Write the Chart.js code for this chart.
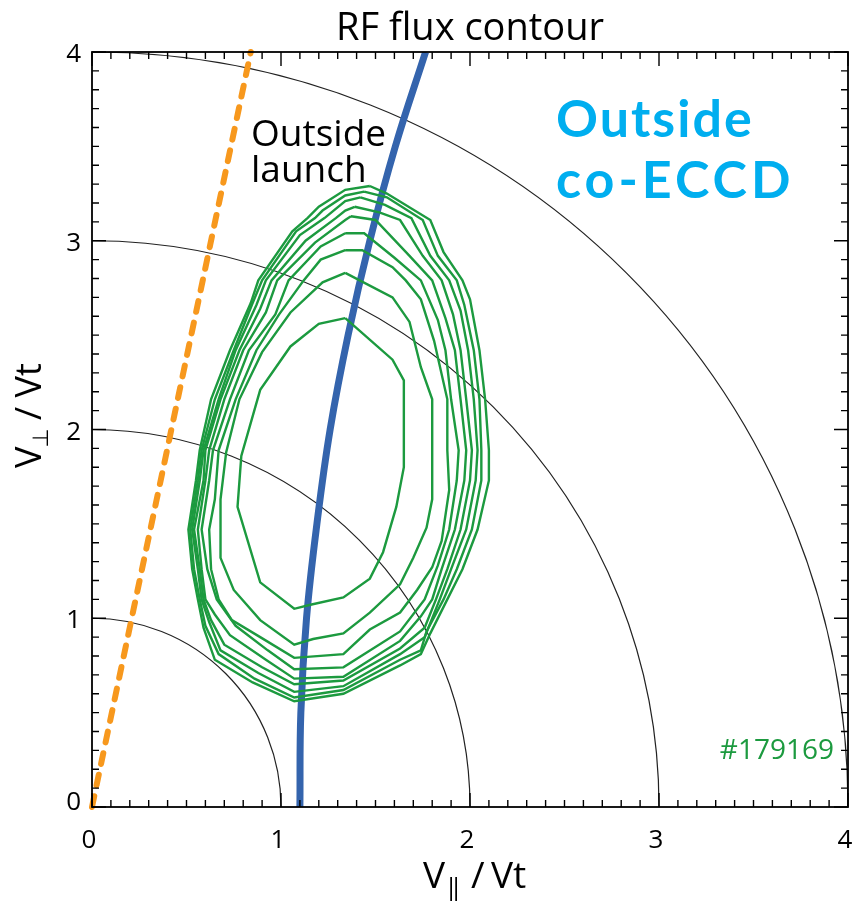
<!DOCTYPE html>
<html>
<head>
<meta charset="utf-8">
<title>RF flux contour</title>
<style>
  html, body { margin: 0; padding: 0; background: #ffffff; }
  canvas { display: block; }
</style>
<script src="https://cdn.jsdelivr.net/npm/chart.js@4.4.1/dist/chart.umd.min.js"></script>
</head>
<body>
<canvas id="flux" width="858" height="901"></canvas>
<script>
// Axis ticks (V||/Vt and V⊥/Vt), minor tick spacing
const axisTicks = [0, 1, 2, 3, 4];
const tickLabels = ['0', '1', '2', '3', '4'];
const minorStep = 0.1;

// Constant-energy circles |v|/Vt
const circleRadii = [1, 2, 3, 4];

// Launch ray (orange dashed)
const launchX = [0, 0.84];
const launchY = [0, 4];

// Resonance curve (blue)
const resonanceY = [0, 0.5, 1, 1.5, 2, 2.5, 3, 3.5, 4];
const resonanceX = [1.10, 1.105, 1.135, 1.19, 1.26, 1.355, 1.47, 1.605, 1.765];

// RF flux contours, outermost to innermost, as [V||, V⊥] vertices
const contour1 = [[1.47,3.29],[1.56,3.25],[1.79,3.11],[1.86,2.94],[1.96,2.79],[2.00,2.69],[2.05,2.42],[2.08,2.16],[2.10,1.89],[2.10,1.73],[2.04,1.47],[1.96,1.26],[1.88,1.10],[1.79,0.92],[1.74,0.81],[1.63,0.75],[1.33,0.60],[1.07,0.56],[0.85,0.66],[0.65,0.78],[0.59,0.95],[0.56,1.10],[0.53,1.26],[0.51,1.47],[0.55,1.73],[0.57,1.89],[0.63,2.16],[0.73,2.42],[0.84,2.67],[0.88,2.79],[1.06,3.05],[1.14,3.12],[1.20,3.18],[1.34,3.27]];
const contour2 = [[1.44,3.26],[1.56,3.23],[1.75,3.11],[1.83,2.92],[1.93,2.79],[1.97,2.66],[2.02,2.42],[2.05,2.16],[2.06,1.89],[2.06,1.73],[2.01,1.47],[1.93,1.26],[1.86,1.10],[1.77,0.93],[1.74,0.83],[1.63,0.78],[1.33,0.62],[1.07,0.58],[0.86,0.68],[0.67,0.81],[0.60,0.96],[0.57,1.10],[0.54,1.26],[0.52,1.47],[0.56,1.73],[0.58,1.89],[0.65,2.16],[0.75,2.42],[0.85,2.67],[0.90,2.79],[1.08,3.05],[1.18,3.12],[1.22,3.16],[1.34,3.24]];
const contour3 = [[1.42,3.23],[1.55,3.19],[1.69,3.12],[1.79,2.92],[1.89,2.79],[1.95,2.63],[1.99,2.42],[2.02,2.16],[2.04,1.89],[2.03,1.73],[1.98,1.47],[1.90,1.26],[1.84,1.10],[1.76,0.90],[1.63,0.81],[1.33,0.64],[1.07,0.61],[0.88,0.71],[0.68,0.83],[0.62,0.98],[0.58,1.10],[0.56,1.26],[0.53,1.47],[0.57,1.73],[0.59,1.89],[0.67,2.16],[0.76,2.42],[0.87,2.66],[0.92,2.79],[1.10,3.03],[1.23,3.12],[1.34,3.21]];
const contour4 = [[1.39,3.18],[1.52,3.15],[1.63,3.11],[1.75,2.92],[1.85,2.79],[1.91,2.61],[1.95,2.42],[1.98,2.16],[2.01,1.89],[2.00,1.73],[1.95,1.47],[1.88,1.26],[1.82,1.10],[1.76,0.95],[1.63,0.84],[1.33,0.67],[1.07,0.65],[0.90,0.74],[0.70,0.86],[0.63,0.99],[0.59,1.10],[0.57,1.26],[0.54,1.47],[0.59,1.73],[0.60,1.89],[0.68,2.16],[0.78,2.42],[0.89,2.64],[0.95,2.79],[1.13,3.00],[1.29,3.12],[1.34,3.16]];
const contour5 = [[1.37,3.13],[1.50,3.11],[1.68,2.92],[1.80,2.79],[1.87,2.59],[1.92,2.42],[1.95,2.16],[1.98,1.89],[1.97,1.73],[1.92,1.47],[1.85,1.26],[1.80,1.10],[1.74,1.01],[1.63,0.88],[1.33,0.69],[1.07,0.68],[0.92,0.78],[0.73,0.91],[0.65,1.02],[0.60,1.10],[0.58,1.26],[0.56,1.47],[0.60,1.73],[0.62,1.89],[0.70,2.16],[0.80,2.42],[0.92,2.62],[0.98,2.79],[1.18,2.99],[1.34,3.11]];
const contour6 = [[1.34,3.04],[1.44,3.04],[1.60,2.91],[1.74,2.79],[1.83,2.58],[1.87,2.42],[1.90,2.16],[1.94,1.89],[1.93,1.73],[1.89,1.47],[1.83,1.28],[1.76,1.10],[1.63,0.93],[1.33,0.74],[1.07,0.73],[0.93,0.83],[0.76,0.96],[0.66,1.10],[0.61,1.26],[0.58,1.47],[0.62,1.73],[0.64,1.89],[0.73,2.16],[0.83,2.42],[0.97,2.61],[1.04,2.79],[1.21,2.97]];
const contour7 = [[1.34,2.95],[1.43,2.95],[1.59,2.86],[1.66,2.79],[1.74,2.69],[1.81,2.47],[1.88,2.16],[1.88,1.89],[1.89,1.68],[1.85,1.41],[1.80,1.27],[1.72,1.15],[1.63,1.03],[1.47,0.94],[1.33,0.81],[1.07,0.79],[0.89,0.90],[0.74,0.99],[0.67,1.10],[0.63,1.26],[0.62,1.47],[0.65,1.63],[0.67,1.89],[0.76,2.16],[0.87,2.42],[0.99,2.61],[1.12,2.79],[1.21,2.90]];
const contour8 = [[1.34,2.83],[1.59,2.70],[1.68,2.57],[1.74,2.33],[1.80,2.16],[1.80,1.89],[1.80,1.63],[1.77,1.48],[1.70,1.32],[1.63,1.18],[1.47,1.03],[1.33,0.92],[1.17,0.89],[1.07,0.86],[0.89,0.99],[0.75,1.15],[0.68,1.32],[0.68,1.63],[0.71,1.88],[0.78,2.16],[0.90,2.41],[1.05,2.62],[1.22,2.78]];
const contour9 = [[1.34,2.59],[1.59,2.37],[1.65,2.26],[1.65,1.80],[1.61,1.59],[1.54,1.35],[1.47,1.21],[1.33,1.11],[1.15,1.07],[1.07,1.05],[0.89,1.19],[0.77,1.59],[0.79,1.86],[0.89,2.21],[1.05,2.44],[1.20,2.56]];

const FONT = '"Open Sans", "Noto Sans", "DejaVu Sans", sans-serif';
const GREEN = '#1c9a3f';
const BLUE = '#3464ad';
const ORANGE = '#f7981d';
const CYAN = '#00aeef';

const contours = [contour1, contour2, contour3, contour4, contour5, contour6, contour7, contour8, contour9];

const datasets = contours.map((c, i) => ({
  label: 'flux level ' + (i + 1),
  data: c.concat([c[0]]).map(p => ({ x: p[0], y: p[1] })),
  showLine: true,
  borderColor: GREEN,
  borderWidth: 2.4,
  borderJoinStyle: 'miter',
  pointRadius: 0,
  tension: 0,
  fill: false
}));

datasets.push({
  label: 'resonance',
  data: resonanceX.map((x, i) => ({ x: x, y: resonanceY[i] })),
  showLine: true,
  borderColor: BLUE,
  borderWidth: 7,
  pointRadius: 0,
  tension: 0.4,
  fill: false
});

datasets.push({
  label: 'launch',
  data: launchX.map((x, i) => ({ x: x, y: launchY[i] })),
  showLine: true,
  borderColor: ORANGE,
  borderWidth: 6,
  borderDash: [11, 11],
  borderCapStyle: 'round',
  pointRadius: 0,
  fill: false,
  clip: false
});

// Quarter circles of constant |v|, drawn under the data
const energyCircles = {
  id: 'energyCircles',
  beforeDatasetsDraw(chart) {
    const { ctx, chartArea: a, scales: { x, y } } = chart;
    const x0 = x.getPixelForValue(0), y0 = y.getPixelForValue(0);
    ctx.save();
    ctx.beginPath();
    ctx.rect(a.left, a.top, a.right - a.left, a.bottom - a.top);
    ctx.clip();
    ctx.strokeStyle = '#222222';
    ctx.lineWidth = 1.2;
    circleRadii.forEach(r => {
      const rx = x.getPixelForValue(r) - x0;
      const ry = y0 - y.getPixelForValue(r);
      ctx.beginPath();
      ctx.ellipse(x0, y0, rx, ry, 0, -Math.PI / 2, 0);
      ctx.stroke();
    });
    ctx.restore();
  }
};

// Box frame with inward ticks on all four sides, plus tick labels
const frameTicks = {
  id: 'frameTicks',
  afterDatasetsDraw(chart) {
    const { ctx, chartArea: a, scales: { x, y } } = chart;
    ctx.save();
    ctx.strokeStyle = '#000000';
    ctx.lineWidth = 1.8;
    ctx.strokeRect(a.left, a.top, a.right - a.left, a.bottom - a.top);
    ctx.lineWidth = 1.4;
    const lo = axisTicks[0], hi = axisTicks[axisTicks.length - 1];
    const n = Math.round((hi - lo) / minorStep);
    ctx.beginPath();
    for (let i = 0; i <= n; i++) {
      const v = lo + i * minorStep;
      const major = axisTicks.some(t => Math.abs(t - v) < 1e-6);
      const len = major ? 14 : 7;
      const px = x.getPixelForValue(v);
      ctx.moveTo(px, a.bottom); ctx.lineTo(px, a.bottom - len);
      ctx.moveTo(px, a.top); ctx.lineTo(px, a.top + len);
      const py = y.getPixelForValue(v);
      ctx.moveTo(a.left, py); ctx.lineTo(a.left + len, py);
      ctx.moveTo(a.right, py); ctx.lineTo(a.right - len, py);
    }
    ctx.stroke();

    ctx.fillStyle = '#000000';
    ctx.font = '26px ' + FONT;
    ctx.textBaseline = 'alphabetic';
    axisTicks.forEach((v, i) => {
      ctx.textAlign = 'center';
      ctx.fillText(tickLabels[i], x.getPixelForValue(v) - 3, a.bottom + 41);
      ctx.textAlign = 'right';
      const py = y.getPixelForValue(v);
      ctx.fillText(tickLabels[i], a.left - 11, v === lo ? py + 3 : py + 10);
    });
    ctx.restore();
  }
};

// Title, axis titles and annotations
const labels = {
  id: 'labels',
  afterDraw(chart) {
    const { ctx, chartArea: a } = chart;
    ctx.save();
    ctx.fillStyle = '#000000';
    ctx.textBaseline = 'alphabetic';

    // title
    ctx.font = '38px ' + FONT;
    ctx.textAlign = 'center';
    ctx.fillText('RF flux contour', (a.left + a.right) / 2, 40);

    // x-axis title: V|| / Vt
    ctx.textAlign = 'left';
    const xb = 888;
    ctx.font = '37px ' + FONT;
    ctx.fillText('V', 423, xb);
    const vw = ctx.measureText('V').width;
    ctx.font = '26px ' + FONT;
    ctx.fillText('|', 423 + vw - 1, xb + 8);
    ctx.fillText('|', 423 + vw + 4, xb + 8);
    ctx.font = '37px ' + FONT;
    ctx.fillText('/', 471, xb);
    ctx.fillText('Vt', 491, xb);

    // y-axis title: V⊥ / Vt (rotated)
    ctx.save();
    ctx.translate(41, 468);
    ctx.rotate(-Math.PI / 2);
    let cy = 0;
    ctx.font = '36px ' + FONT;
    ctx.fillText('V', cy, 0);
    cy += ctx.measureText('V').width - 1;
    ctx.font = '22px ' + FONT;
    ctx.fillText('\u22A5', cy, 7);
    cy += ctx.measureText('\u22A5').width - 1;
    ctx.font = '36px ' + FONT;
    ctx.fillText(' / Vt', cy, 0);
    ctx.restore();

    // launch annotation
    ctx.font = '37px ' + FONT;
    ctx.fillText('Outside', 251, 146);
    ctx.fillText('launch', 251, 182);

    // scenario annotation
    ctx.fillStyle = CYAN;
    ctx.font = 'bold 52px Lato, ' + FONT;
    ctx.letterSpacing = '2px';
    ctx.fillText('Outside', 556, 137);
    ctx.letterSpacing = '4px';
    ctx.fillText('co-ECCD', 556, 198);
    ctx.letterSpacing = '0px';

    // shot number
    ctx.fillStyle = GREEN;
    ctx.font = '28px ' + FONT;
    ctx.textAlign = 'right';
    ctx.fillText('#179169', 834, 759);
    ctx.restore();
  }
};

new Chart(document.getElementById('flux'), {
  type: 'scatter',
  data: { datasets: datasets },
  options: {
    responsive: false,
    animation: false,
    devicePixelRatio: 1,
    layout: { padding: { top: 52, right: 10, left: 0, bottom: 0 } },
    plugins: { legend: { display: false }, tooltip: { enabled: false }, title: { display: false } },
    scales: {
      x: {
        type: 'linear', min: axisTicks[0], max: axisTicks[axisTicks.length - 1],
        ticks: { display: false },
        grid: { display: false, drawTicks: false },
        border: { display: false },
        afterFit(s) { s.height = 94; }
      },
      y: {
        type: 'linear', min: axisTicks[0], max: axisTicks[axisTicks.length - 1],
        ticks: { display: false },
        grid: { display: false, drawTicks: false },
        border: { display: false },
        afterFit(s) { s.width = 92; }
      }
    }
  },
  plugins: [energyCircles, frameTicks, labels]
});
</script>
</body>
</html>
